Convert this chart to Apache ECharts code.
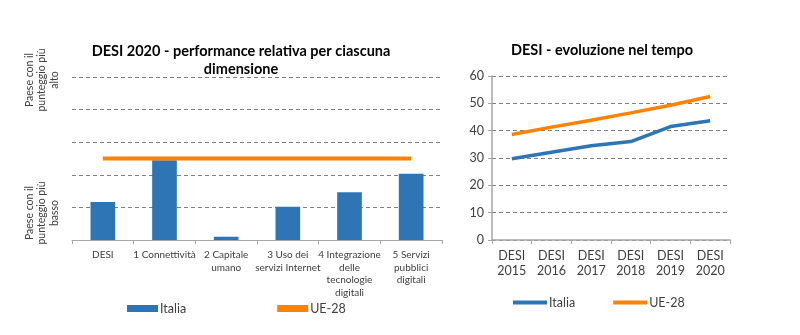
<!DOCTYPE html>
<html>
<head>
<meta charset="utf-8">
<script src="https://cdn.jsdelivr.net/npm/echarts@6/dist/echarts.min.js"></script>
<style>html,body{margin:0;padding:0;background:#fff}#c{width:800px;height:335px}</style>
</head>
<body>
<div id="c"></div>
<script>
// Left chart: relative performance per dimension (0 = lowest, 100 = highest)
const dimCategories = ['DESI', '1 Connettività', '2 Capitale\numano', '3 Uso dei\nservizi Internet', '4 Integrazione\ndelle\ntecnologie\ndigitali', '5 Servizi\npubblici\ndigitali'];
const dimItalia = [23.3, 49, 2, 20.4, 29.3, 40.7];
const dimUE = [50, 50, 50, 50, 50, 50];

// Right chart: DESI over time
const years = ['DESI\n2015', 'DESI\n2016', 'DESI\n2017', 'DESI\n2018', 'DESI\n2019', 'DESI\n2020'];
const evoItalia = [29.7, 32.1, 34.5, 36.0, 41.5, 43.6];
const evoUE = [38.6, 41.3, 43.8, 46.5, 49.3, 52.5];
const yTicks = [0, 10, 20, 30, 40, 50, 60];

const FONT = 'Lato';
const BLUE = '#2E75B6';
const ORANGE = '#FF8200';
const GRID = '#808080';
const AXIS = '#a6a6a6';

const chart = echarts.init(document.getElementById('c'));
chart.setOption({
  animation: false,
  textStyle: { fontFamily: FONT },
  title: [
    { text: 'DESI 2020 - performance relativa per ciascuna\ndimensione', left: 236, top: 37, textAlign: 'center',
      textStyle: { fontFamily: FONT, fontSize: 14.5, fontWeight: 'bold', color: '#000', lineHeight: 18 } },
    { text: 'DESI - evoluzione nel tempo', left: 597, top: 38, textAlign: 'center',
      textStyle: { fontFamily: FONT, fontSize: 14.5, fontWeight: 'bold', color: '#000' } }
  ],
  grid: [
    { left: 72, right: 358, top: 77, bottom: 95 },
    { left: 492, right: 70, top: 76, bottom: 95 }
  ],
  xAxis: [
    { type: 'category', gridIndex: 0, data: dimCategories,
      axisLine: { lineStyle: { color: AXIS, width: 1 } },
      axisTick: { show: true, length: 4, lineStyle: { color: AXIS } },
      axisLabel: { interval: 0, fontSize: 10, color: '#404040', lineHeight: 12.4, margin: 9, fontFamily: FONT } },
    { type: 'category', gridIndex: 1, data: years,
      axisLine: { lineStyle: { color: AXIS, width: 1.5 } },
      axisTick: { show: true, length: 4, lineStyle: { color: AXIS } },
      axisLabel: { interval: 0, fontSize: 12.5, color: '#404040', lineHeight: 15, margin: 8, fontFamily: FONT } }
  ],
  yAxis: [
    { type: 'value', gridIndex: 0, min: 0, max: 100, interval: 20,
      axisLine: { show: false }, axisTick: { show: false }, axisLabel: { show: false },
      splitLine: { lineStyle: { color: GRID, type: [4, 3], width: 1 } } },
    { type: 'value', gridIndex: 1, min: yTicks[0], max: yTicks[yTicks.length - 1], interval: 10,
      axisLine: { show: true, lineStyle: { color: AXIS, width: 1.5 } },
      axisTick: { show: true, length: 4, lineStyle: { color: AXIS } },
      axisLabel: { fontSize: 12.5, color: '#404040', margin: 8, fontFamily: FONT },
      splitLine: { lineStyle: { color: GRID, type: [4, 3], width: 1 } } }
  ],
  legend: [
    { left: 122, top: 297, itemGap: 91, itemWidth: 31, itemHeight: 7,
      textStyle: { fontFamily: FONT, fontSize: 12.5, color: '#404040', padding: [0, 0, 0, -3] },
      data: [
        { name: 'Italia', icon: 'rect' },
        { name: 'UE-28', icon: 'rect', itemStyle: { color: ORANGE } }
      ] },
    { left: 508, top: 291, itemGap: 38, itemWidth: 34, itemHeight: 4,
      formatter: n => n.trim(),
      textStyle: { fontFamily: FONT, fontSize: 12.5, color: '#404040', padding: [0, 0, 0, -3] },
      data: [
        { name: 'Italia ', icon: 'rect', itemStyle: { color: BLUE } },
        { name: 'UE-28 ', icon: 'rect', itemStyle: { color: ORANGE } }
      ] }
  ],
  series: [
    { name: 'Italia', type: 'bar', xAxisIndex: 0, yAxisIndex: 0, data: dimItalia, barWidth: '40%',
      itemStyle: { color: BLUE } },
    { name: 'UE-28', type: 'line', xAxisIndex: 0, yAxisIndex: 0, data: dimUE, showSymbol: false, symbol: 'none',
      lineStyle: { color: ORANGE, width: 4 }, itemStyle: { color: ORANGE } },
    { name: 'Italia ', type: 'line', xAxisIndex: 1, yAxisIndex: 1, data: evoItalia, symbol: 'none',
      lineStyle: { color: BLUE, width: 3.5 }, itemStyle: { color: BLUE } },
    { name: 'UE-28 ', type: 'line', xAxisIndex: 1, yAxisIndex: 1, data: evoUE, symbol: 'none',
      lineStyle: { color: ORANGE, width: 3.5 }, itemStyle: { color: ORANGE } }
  ],
  graphic: [
    { type: 'text', x: 42, y: 80, rotation: Math.PI / 2,
      style: { text: 'Paese con il\npunteggio più\nalto', fontFamily: FONT, fontSize: 10.5, lineHeight: 12.5,
        fill: '#404040', textAlign: 'center', textVerticalAlign: 'middle', align: 'center', verticalAlign: 'middle' } },
    { type: 'text', x: 42, y: 213, rotation: Math.PI / 2,
      style: { text: 'Paese con il\npunteggio più\nbasso', fontFamily: FONT, fontSize: 10.5, lineHeight: 12.5,
        fill: '#404040', textAlign: 'center', textVerticalAlign: 'middle', align: 'center', verticalAlign: 'middle' } }
  ]
});
</script>
</body>
</html>
